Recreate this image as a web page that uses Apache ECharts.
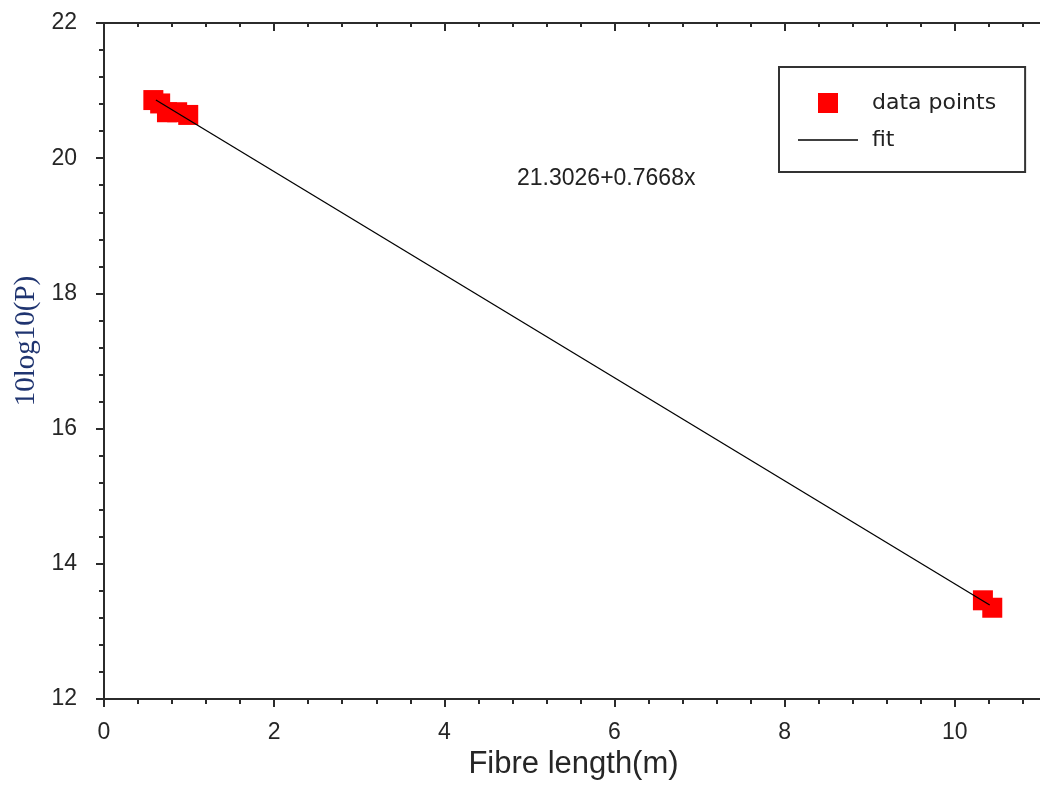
<!DOCTYPE html>
<html>
<head>
<meta charset="utf-8">
<script src="https://cdn.jsdelivr.net/npm/echarts@6/dist/echarts.min.js"></script>
<style>
html,body{margin:0;padding:0;background:#fff;overflow:hidden;}
#chart{width:1125px;height:790px;}
</style>
</head>
<body>
<div id="chart"></div>
<script>
// Data
var pointX = [0.58, 0.66, 0.74, 0.86, 0.99, 10.33, 10.44];
var pointY = [20.86, 20.81, 20.68, 20.68, 20.64, 13.46, 13.35];
var fitX = [0.61, 10.41];
var fitY = [20.86, 13.39];
var seriesNames = ['data points', 'fit'];
var equationText = '21.3026+0.7668x';
var xAxisName = 'Fibre length(m)';
var yAxisName = '10log10(P)';

var pointData = pointX.map(function (x, i) { return [x, pointY[i]]; });
var fitData = fitX.map(function (x, i) { return [x, fitY[i]]; });

var axisColor = '#2b2b2b';
var labelColor = '#262626';

var chart = echarts.init(document.getElementById('chart'));
chart.setOption({
  backgroundColor: '#ffffff',
  animation: false,
  grid: { left: 104, top: 23, right: 0, bottom: 91, containLabel: false },
  legend: {
    orient: 'vertical',
    left: 779, top: 67,
    padding: [25, 29, 21, 19],
    itemWidth: 60, itemHeight: 20, itemGap: 15,
    symbolKeepAspect: true,
    borderColor: '#333', borderWidth: 2, backgroundColor: '#fff',
    textStyle: { fontFamily: 'DejaVu Sans', fontSize: 22, color: '#222', padding: [0, 0, 0, 9] },
    data: [
      { name: seriesNames[0], icon: 'path://M0,0H10V10H0Z' },
      { name: seriesNames[1], icon: 'path://M0,0H60V1.4H0Z' }
    ]
  },
  graphic: [{
    type: 'text', left: 517, top: 167,
    style: { text: equationText, font: '23px "Liberation Sans", Arial, sans-serif', fill: '#222' }
  }],
  xAxis: [{
    type: 'value', position: 'bottom', min: 0, max: 12, interval: 2,
    name: xAxisName, nameLocation: 'middle', nameGap: 47,
    nameTextStyle: { fontFamily: 'Liberation Sans, Arial', fontSize: 31, color: '#262626', padding: [0, 82, 0, 0] },
    axisLine: { show: true, onZero: false, lineStyle: { color: axisColor, width: 2 } },
    axisTick: { show: true, inside: false, length: 8, lineStyle: { color: axisColor, width: 2 } },
    minorTick: { show: true, splitNumber: 5, length: 5, lineStyle: { color: axisColor, width: 2 } },
    axisLabel: { margin: 22, fontFamily: 'Liberation Sans, Arial', fontSize: 23, color: labelColor, showMaxLabel: false },
    splitLine: { show: false }, minorSplitLine: { show: false }
  }, {
    type: 'value', position: 'top', min: 0, max: 12, interval: 2,
    axisLine: { show: true, onZero: false, lineStyle: { color: axisColor, width: 2 } },
    axisTick: { show: true, inside: true, length: 8, lineStyle: { color: axisColor, width: 2 } },
    minorTick: { show: true, splitNumber: 5, length: 4, lineStyle: { color: axisColor, width: 2 } },
    axisLabel: { show: false },
    splitLine: { show: false }
  }],
  yAxis: [{
    type: 'value', position: 'left', min: 12, max: 22, interval: 2,
    name: yAxisName, nameLocation: 'middle', nameGap: 62,
    nameTextStyle: { fontFamily: 'Liberation Serif, Times New Roman, serif', fontSize: 29, color: '#1f3470', padding: [0, 0, 0, 40] },
    axisLine: { show: true, onZero: false, lineStyle: { color: axisColor, width: 2 } },
    axisTick: { show: true, inside: false, length: 8, lineStyle: { color: axisColor, width: 2 } },
    minorTick: { show: true, splitNumber: 5, length: 5, lineStyle: { color: axisColor, width: 2 } },
    axisLabel: { margin: 27, fontFamily: 'Liberation Sans, Arial', fontSize: 23, color: labelColor },
    splitLine: { show: false }, minorSplitLine: { show: false }
  }],
  series: [{
    name: seriesNames[0], type: 'scatter', xAxisIndex: 0, yAxisIndex: 0,
    symbol: 'rect', symbolSize: 20,
    itemStyle: { color: '#ff0000', opacity: 1 },
    data: pointData, z: 2
  }, {
    name: seriesNames[1], type: 'line', xAxisIndex: 0, yAxisIndex: 0,
    symbol: 'none', showSymbol: false,
    lineStyle: { color: '#000', width: 1.3 },
    itemStyle: { color: '#000' },
    data: fitData, z: 3
  }]
});
</script>
</body>
</html>
